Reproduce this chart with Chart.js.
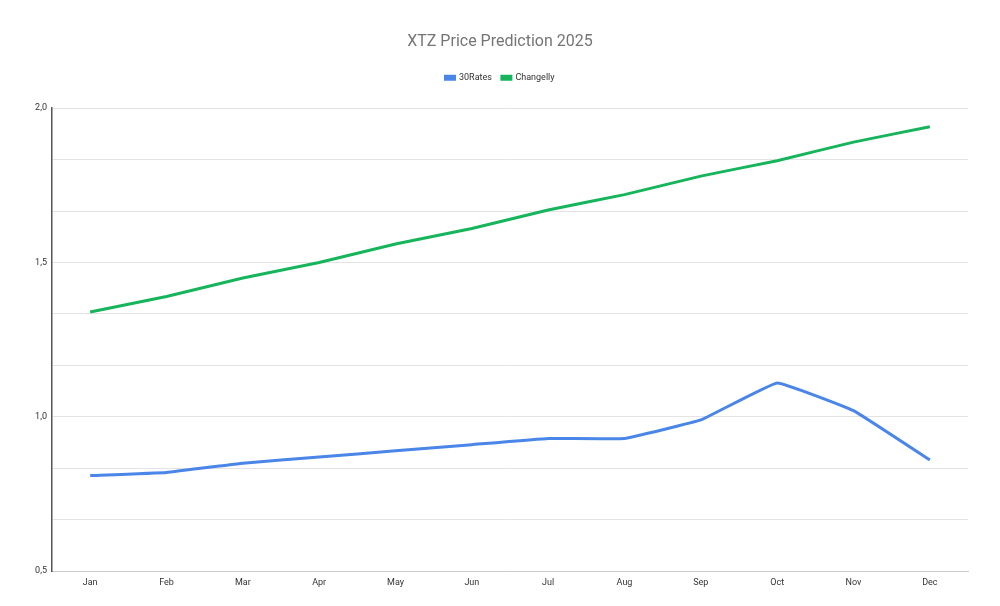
<!DOCTYPE html>
<html lang="en">
<head>
  <meta charset="UTF-8" />
  <title>XTZ Price Prediction 2025</title>
  <script src="https://cdn.jsdelivr.net/npm/chart.js"></script>
  <style>
    html, body {
      margin: 0;
      padding: 0;
      background: #fff;
    }
    #wrap {
      width: 1000px;
      height: 606px;
    }
  </style>
</head>
<body>
  <div id="wrap"><canvas id="chart"></canvas></div>

  <script>
    const months = ["Jan", "Feb", "Mar", "Apr", "May", "Jun", "Jul", "Aug", "Sep", "Oct", "Nov", "Dec"];
    const rates30 = [0.81, 0.82, 0.85, 0.87, 0.89, 0.91, 0.93, 0.93, 0.99, 1.11, 1.02, 0.86];
    const changelly = [1.34, 1.39, 1.45, 1.50, 1.56, 1.61, 1.67, 1.72, 1.78, 1.83, 1.89, 1.94];
    const yMin = 0.5, yMax = 2.0, yStep = 0.5 / 3;

    Chart.defaults.font.family = "Roboto, 'Liberation Sans', Arial, sans-serif";
    Chart.defaults.color = "#444";

    // extra room under the legend, like the sheet export
    const legendGap = {
      id: "legendGap",
      beforeInit(chart) {
        const fit = chart.legend.fit;
        chart.legend.fit = function () {
          fit.call(this);
          this.height += 16;
        };
      }
    };

    const ctx = document.getElementById("chart").getContext("2d");
    new Chart(ctx, {
      type: "line",
      data: {
        labels: months,
        datasets: [
          { label: "30Rates", data: rates30, borderColor: "#4a86e8", backgroundColor: "#4a86e8", borderWidth: 3, pointRadius: 0, tension: 0.08 },
          { label: "Changelly", data: changelly, borderColor: "#16b45b", backgroundColor: "#16b45b", borderWidth: 3, pointRadius: 0, tension: 0.08 }
        ]
      },
      options: {
        responsive: true,
        maintainAspectRatio: false,
        animation: false,
        layout: { padding: { left: 32, right: 32, top: 0, bottom: 12 } },
        plugins: {
          title: {
            display: true,
            text: "XTZ Price Prediction 2025",
            color: "#757575",
            font: { size: 16, weight: "normal" },
            padding: { top: 32, bottom: 12 }
          },
          legend: {
            labels: { boxWidth: 9, boxHeight: 3, font: { size: 9 }, color: "#333", padding: 10 }
          },
          tooltip: { enabled: false }
        },
        scales: {
          x: {
            offset: true,
            grid: { display: false, drawTicks: false },
            border: { color: "#cccccc", width: 1 },
            ticks: { font: { size: 9 }, color: "#333", padding: 6 }
          },
          y: {
            min: yMin,
            max: yMax,
            afterFit: (axis) => { axis.width = 20; },
            grid: { color: "#e3e3e3", drawTicks: false },
            border: { color: "#555", width: 1.5 },
            ticks: {
              stepSize: yStep,
              font: { size: 9 },
              color: "#333",
              padding: 5,
              autoSkip: false,
              callback: (v) => {
                const h = v * 2;
                return Math.abs(h - Math.round(h)) < 1e-6 ? v.toFixed(1).replace(".", ",") : "";
              }
            }
          }
        }
      },
      plugins: [legendGap]
    });
  </script>
</body>
</html>
